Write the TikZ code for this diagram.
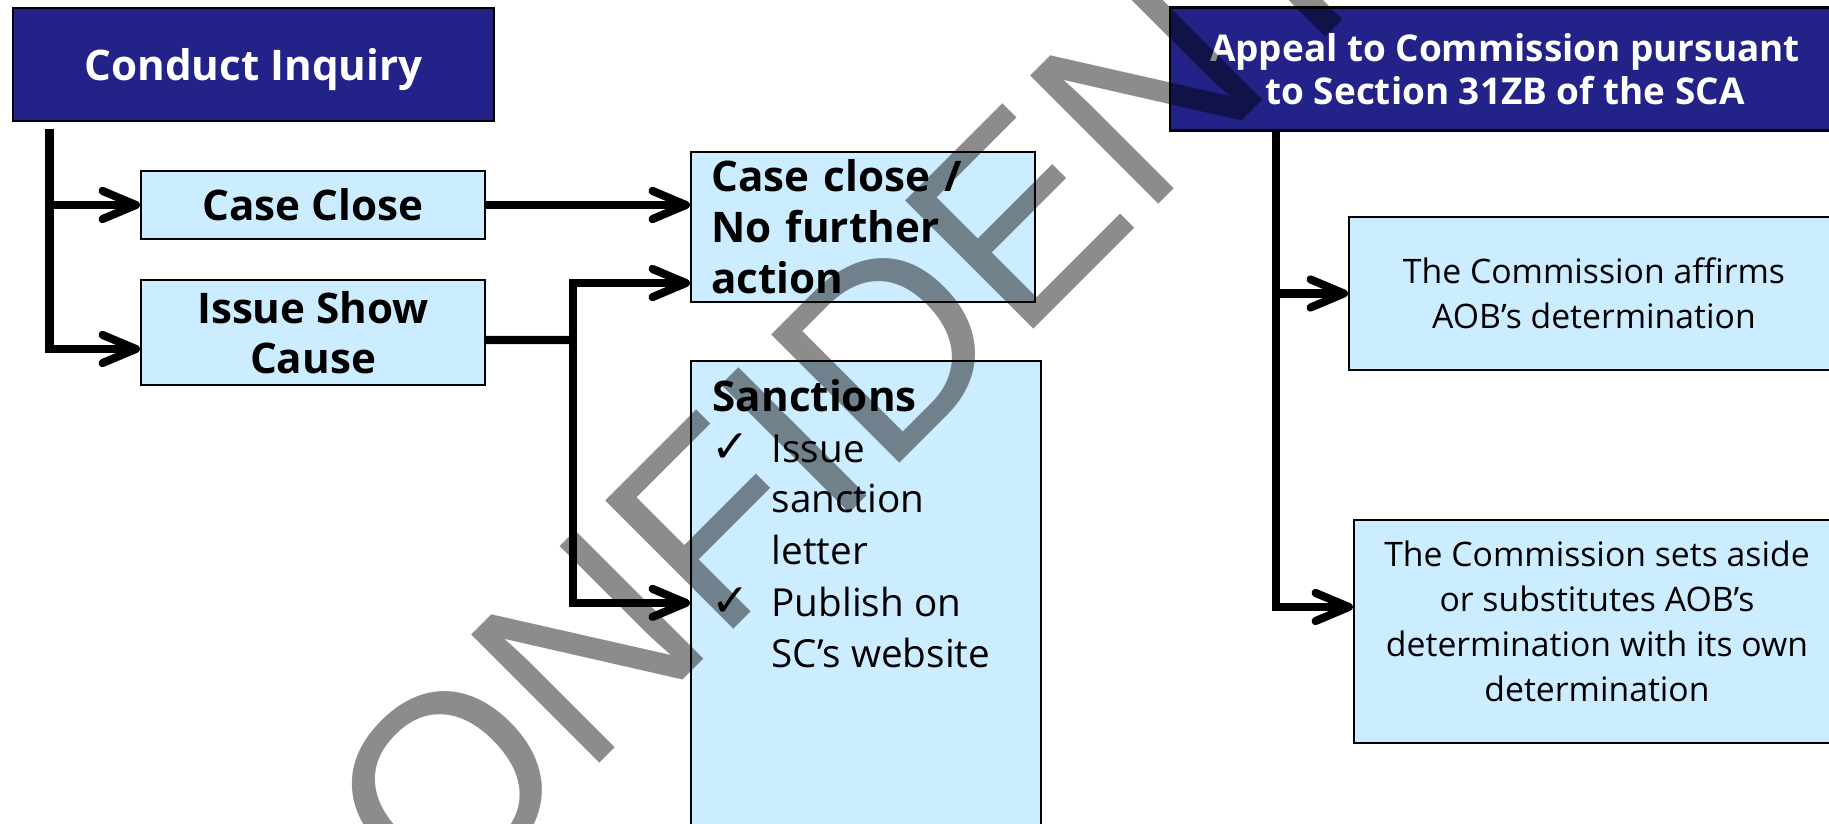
\documentclass[tikz,border=0pt]{standalone}
\usepackage{fontspec}
\setmainfont{Open Sans}
\newfontfamily\tickfont{DejaVu Sans}
\newfontfamily\stampfont{Liberation Sans}
\usetikzlibrary{arrows.meta}
\definecolor{navy}{RGB}{34,34,136}
\definecolor{paleblue}{RGB}{204,236,255}

\begin{document}
\begin{tikzpicture}[
    darkbox/.style={draw=black,line width=0.6pt,fill=navy,text=white,font=\bfseries\fontsize{12}{14.2}\selectfont,align=center,inner sep=0pt},
    headbox/.style={draw=black,line width=0.6pt,fill=paleblue,font=\bfseries\fontsize{12}{14.2}\selectfont,align=center,inner sep=0pt},
    plainbox/.style={draw=black,line width=0.6pt,fill=paleblue,font=\fontsize{9.6}{12.8}\selectfont,align=center,inner sep=0pt},
    itemtext/.style={font=\fontsize{11}{14.5}\selectfont,anchor=base west,inner sep=0pt},
    flow/.style={line width=2.3pt,-{Straight Barb[length=9.5pt,width=8pt,round]}},
    link/.style={line width=2.3pt}
]
\useasboundingbox (0,0) rectangle (18.29,-8.24);
\clip (0,0) rectangle (18.29,-8.24);

% inquiry side
\node[darkbox,minimum width=4.81cm,minimum height=1.13cm,text depth=0pt] (ci) at (2.535,-0.645) {Conduct Inquiry};
\node[headbox,minimum width=3.44cm,minimum height=0.68cm] (cc) at (3.13,-2.05) {Case Close};
\node[headbox,minimum width=3.44cm,minimum height=1.05cm] (isc) at (3.13,-3.325) {Issue Show\\Cause};

% outcomes
\node[headbox,minimum width=3.44cm,minimum height=1.50cm,text width=3.03cm,align=left,font=\bfseries\fontsize{12}{14.5}\selectfont] (nfa) at (8.63,-2.27) {Case close /\\No further\\action};
\node[headbox,minimum width=3.50cm,minimum height=5.39cm] (sanc) at (8.66,-6.305) {};
\node[itemtext,font=\bfseries\fontsize{12}{14.5}\selectfont] (sanchead) at (7.12,-4.12) {Sanctions};
\node[itemtext,font=\tickfont\fontsize{13}{14.5}\selectfont] (tickA) at (7.11,-4.63) {✓};
\node[itemtext] (itemA1) at (7.71,-4.63) {Issue};
\node[itemtext] (itemA2) at (7.71,-5.13) {sanction};
\node[itemtext] (itemA3) at (7.71,-5.65) {letter};
\node[itemtext,font=\tickfont\fontsize{13}{14.5}\selectfont] (tickB) at (7.11,-6.17) {✓};
\node[itemtext] (itemB1) at (7.71,-6.17) {Publish on};
\node[itemtext] (itemB2) at (7.71,-6.68) {SC’s website};

% appeal side
\node[darkbox,minimum width=6.70cm,minimum height=1.23cm,font=\bfseries\fontsize{10.5}{12.2}\selectfont] (appeal) at (15.05,-0.69) {Appeal to Commission pursuant\\to Section 31ZB of the SCA};
\node[plainbox,minimum width=4.90cm,minimum height=1.53cm] (affirm) at (15.94,-2.935) {The Commission affirms\\AOB’s determination};
\node[plainbox,minimum width=4.86cm,minimum height=2.23cm] (setaside) at (15.97,-6.315) {The Commission sets aside\\or substitutes AOB’s\\determination with its own\\determination\rule[-0.2cm]{0pt}{0pt}};

% connectors
\coordinate (cifoot) at (0.495,-1.29);
\draw[flow] (cifoot) |- ([yshift=-0.165cm]isc.west);
\draw[flow] (cifoot |- cc.west) -- (cc.west);
\draw[flow] (cc.east) -- (cc.east -| nfa.west);
\coordinate (fork) at (5.73,-3.40);
\draw[link] ([yshift=-0.075cm]isc.east) -- (fork);
\draw[flow] (fork) |- ([yshift=0.20cm]nfa.south west);
\draw[flow] (fork) |- ([yshift=-2.43cm]sanc.north west);
\coordinate (appfoot) at (12.76,-1.31);
\draw[flow] (appfoot) |- (affirm.west);
\draw[flow] (appfoot) |- ([yshift=0.245cm]setaside.west);

% watermark
\node[font=\stampfont\fontsize{75}{75}\selectfont,text=black,text opacity=0.45,rotate=45,anchor=base west,inner sep=0pt] (stamp) at (3.04,-10.59) {CONFIDENTIAL};
\end{tikzpicture}
\end{document}
